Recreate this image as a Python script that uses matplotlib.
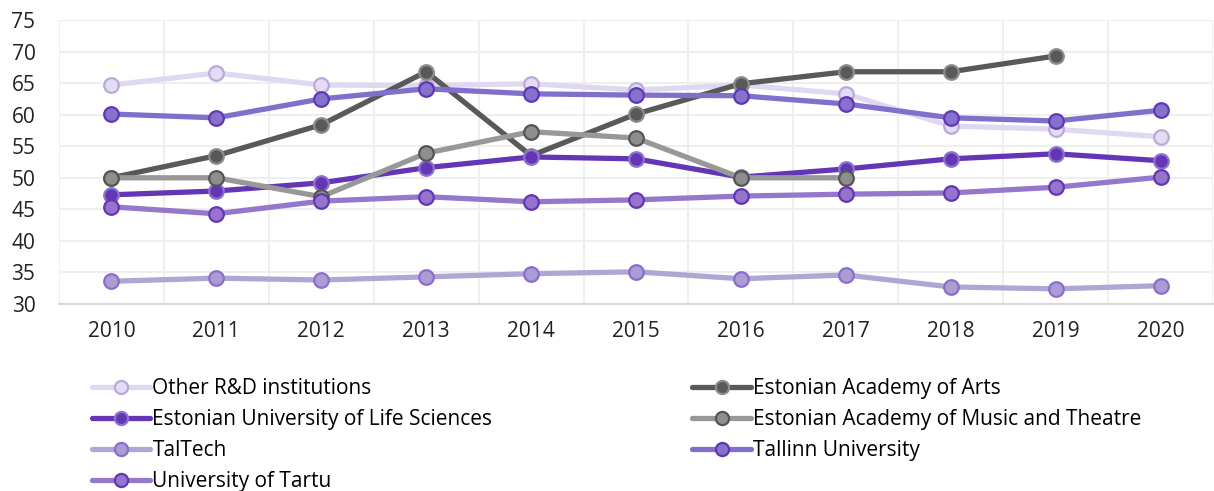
import matplotlib
matplotlib.use("Agg")
import matplotlib.pyplot as plt
import numpy as np

plt.rcParams['font.family'] = ['Open Sans', 'DejaVu Sans']

years = [2010, 2011, 2012, 2013, 2014, 2015, 2016, 2017, 2018, 2019, 2020]

other_rd = [64.7, 66.6, 64.7, 64.6, 64.9, 63.9, 64.7, 63.3, 58.2, 57.7, 56.5]
arts = [50.0, 53.5, 58.4, 66.8, 53.5, 60.1, 64.9, 66.8, 66.8, 69.3, None]
life_sciences = [47.3, 47.9, 49.2, 51.6, 53.3, 53.0, 50.1, 51.4, 53.0, 53.8, 52.7]
music_theatre = [50.0, 50.0, 47.0, 53.9, 57.3, 56.3, 50.0, 50.0, None, None, None]
taltech = [33.6, 34.1, 33.8, 34.3, 34.8, 35.1, 34.0, 34.6, 32.7, 32.4, 32.9]
tallinn = [60.1, 59.5, 62.5, 64.1, 63.3, 63.1, 63.0, 61.7, 59.5, 59.0, 60.7]
tartu = [45.4, 44.3, 46.3, 47.0, 46.2, 46.5, 47.1, 47.4, 47.6, 48.5, 50.1]

series_names = ["Other R&D institutions", "Estonian Academy of Arts",
                "Estonian University of Life Sciences", "Estonian Academy of Music and Theatre",
                "TalTech", "Tallinn University", "University of Tartu"]
series_values = [other_rd, arts, life_sciences, music_theatre, taltech, tallinn, tartu]
# line colour, marker face, marker edge
styles = [
    ("#E0D8F0", "#E3DCF2", "#B8AADB"),
    ("#595959", "#595959", "#8C8C8C"),
    ("#6436B6", "#6436B6", "#8E72D0"),
    ("#989898", "#8E8E8E", "#555555"),
    ("#AFA7D3", "#A99DD4", "#8F6CCB"),
    ("#8070CC", "#8572CC", "#6236B4"),
    ("#9577CB", "#9674CB", "#6236B4"),
]

fig = plt.figure(figsize=(12.14, 4.91), dpi=100)
ax = fig.add_axes([59/1214, 1-304/491, (1213-59)/1214, (304-20)/491])

x = np.arange(len(years))
handles = {}
for name, vals, (lc, fc, ec) in zip(series_names, series_values, styles):
    y = np.array([np.nan if v is None else v for v in vals], dtype=float)
    h, = ax.plot(x, y, color=lc, lw=3.8, marker='o', ms=10.5, mfc=fc, mec=ec, mew=1.6,
                 solid_capstyle='round', solid_joinstyle='round', label=name, zorder=3)
    handles[name] = h

ax.set_xlim(-0.5, len(years) - 0.5)
ax.set_ylim(30, 75)
ax.set_yticks(np.arange(30, 76, 5))
ax.set_xticks(x)
ax.set_xticklabels([str(v) for v in years])
ax.set_xticks(np.arange(-0.5, len(years), 1), minor=True)
ax.grid(axis='y', which='major', color='#EFEFEF', lw=1.5)
ax.grid(axis='x', which='minor', color='#EFEFEF', lw=1.5)
ax.set_axisbelow(True)
for s in ['top', 'right', 'left']:
    ax.spines[s].set_visible(False)
ax.spines['bottom'].set_color('#D9D9D9')
ax.spines['bottom'].set_linewidth(1.5)
ax.tick_params(axis='both', which='both', length=0, labelsize=15, colors='#222222')
ax.tick_params(axis='x', pad=12)
ax.tick_params(axis='y', pad=17)

order = ["Other R&D institutions", "Estonian University of Life Sciences", "TalTech",
         "University of Tartu", "Estonian Academy of Arts",
         "Estonian Academy of Music and Theatre", "Tallinn University"]
leg = fig.legend([handles[n] for n in order], order, ncol=2, loc='upper left',
                 bbox_to_anchor=(92/1214, 1-378/491), frameon=False, fontsize=15,
                 handlelength=2.8, handletextpad=0.1, labelspacing=0.48,
                 columnspacing=9.6, borderaxespad=0, borderpad=0, markerscale=0.9)

fig.savefig("out.png", dpi=100)
